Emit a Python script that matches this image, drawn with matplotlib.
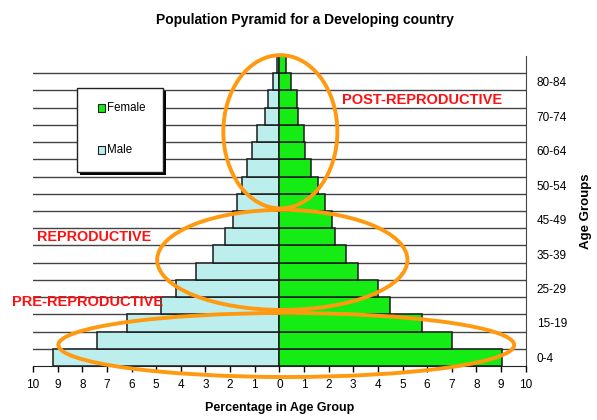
import matplotlib
matplotlib.use("Agg")
import matplotlib.pyplot as plt
from matplotlib.patches import Ellipse, Rectangle
import numpy as np

plt.rcParams['font.family'] = ['Liberation Sans', 'DejaVu Sans']

# ---- data (percent of population, bottom band first) ----
age_groups = ["0-4", "5-9", "10-14", "15-19", "20-24", "25-29", "30-34", "35-39",
              "40-44", "45-49", "50-54", "55-59", "60-64", "65-69", "70-74",
              "75-79", "80-84", "85+"]
male = [9.2, 7.4, 6.2, 4.8, 4.2, 3.4, 2.7, 2.2, 1.9, 1.7, 1.5, 1.3, 1.1, 0.9,
        0.6, 0.45, 0.27, 0.08]
female = [9.05, 7.0, 5.8, 4.5, 4.0, 3.2, 2.7, 2.25, 2.15, 1.85, 1.55, 1.3, 1.05,
          1.0, 0.75, 0.7, 0.47, 0.27]
# tick labels as printed on the original chart (every other band)
ytick_labels = ["0-4", "15-19", "25-29", "35-39", "45-49", "50-54", "60-64",
                "70-74", "80-84"]
xtick_values = list(range(-10, 11))

W, H = 597, 420
fig = plt.figure(figsize=(W / 100, H / 100), dpi=100)
ax = fig.add_axes([33 / W, 1 - 366 / H, (525.7 - 33) / W, (366 - 56) / H])

y = np.arange(len(age_groups))
male_col = "#bdeeee"
female_col = "#14ec14"
ax.barh(y, [-m for m in male], height=1.0, color=male_col, edgecolor="#1a1a1a",
        linewidth=1.1, zorder=3)
ax.barh(y, female, height=1.0, color=female_col, edgecolor="#1a1a1a",
        linewidth=1.1, zorder=3)

# horizontal band separators
for b in np.arange(0.5, len(age_groups) - 1, 1.0):
    ax.axhline(b, color="#444444", linewidth=1.0, zorder=1)

ax.set_xlim(-10, 10)
ax.set_ylim(-0.5, len(age_groups) - 0.5)

ax.set_xticks(xtick_values)
ax.set_xticklabels([str(abs(v)) for v in xtick_values], fontsize=8.5)
ax.tick_params(axis="x", direction="out", length=4, width=1, pad=5)

ax.yaxis.tick_right()
ax.yaxis.set_label_position("right")
ax.set_yticks(y[::2])
ax.set_yticklabels(ytick_labels, fontsize=8.5)
ax.tick_params(axis="y", length=0, pad=8)

for s in ["top", "left"]:
    ax.spines[s].set_visible(False)
ax.spines["right"].set_color("#444444")
ax.spines["bottom"].set_color("#222222")

ax.set_xlabel("Percentage in Age Group", fontsize=9, fontweight="bold",
              labelpad=8)
ax.set_ylabel("Age Groups", fontsize=9.5, fontweight="bold", labelpad=9)

fig.text(305 / W, 1 - 20 / H, "Population Pyramid for a Developing country",
         ha="center", va="center", fontsize=10, fontweight="bold")

# orange ellipses (annotation) in data coordinates
orange = "#ff9a10"
for cx, cy, w, h in [(0.04, 13.1, 4.63, 8.9), (0.12, 5.66, 10.16, 5.81),
                     (0.28, 0.72, 18.5, 3.72)]:
    e = Ellipse((cx, cy), w, h, fill=False, edgecolor=orange, linewidth=2.8,
                zorder=5, clip_on=False)
    ax.add_patch(e)

red = "#ff1010"
fig.text(342 / W, 1 - 100 / H, "POST-REPRODUCTIVE", color=red, fontsize=10.5,
         fontweight="bold", ha="left", va="center", zorder=6)
fig.text(37 / W, 1 - 237 / H, "REPRODUCTIVE", color=red, fontsize=10.4,
         fontweight="bold", ha="left", va="center", zorder=6)
fig.text(12 / W, 1 - 302 / H, "PRE-REPRODUCTIVE", color=red, fontsize=10.5,
         fontweight="bold", ha="left", va="center", zorder=6)

# legend box drawn by hand (with shadow)
def fx(px):
    return px / W

def fy(py):
    return 1 - py / H

fig.patches.append(Rectangle((fx(80), fy(175)), 86 / W, 84 / H,
                             transform=fig.transFigure, facecolor="black",
                             edgecolor="none", zorder=7))
fig.patches.append(Rectangle((fx(77), fy(172)), 86 / W, 84 / H,
                             transform=fig.transFigure, facecolor="white",
                             edgecolor="#222222", linewidth=1.0, zorder=8))
for py, col, lab in [(108, female_col, "Female"), (150, male_col, "Male")]:
    fig.patches.append(Rectangle((fx(98), fy(py + 3.5)), 7 / W, 7 / H,
                                 transform=fig.transFigure, facecolor=col,
                                 edgecolor="#222222", linewidth=0.8, zorder=9))
    fig.text(fx(107), fy(py), lab, fontsize=8.3, ha="left", va="center",
             zorder=9)

fig.savefig("out.png", dpi=100)
